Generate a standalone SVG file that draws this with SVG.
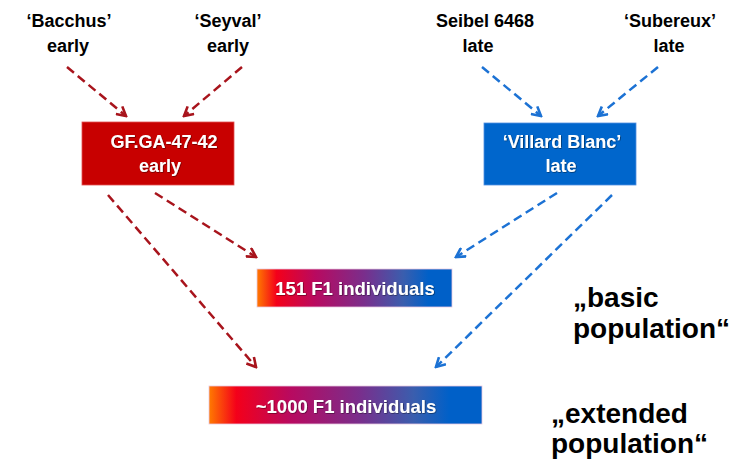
<svg xmlns="http://www.w3.org/2000/svg" width="744" height="460" viewBox="0 0 744 460">
<style>
.lbl{font-family:"Liberation Sans",Arial,sans-serif;font-weight:bold;font-size:18px;fill:#000;text-anchor:middle}
.wt{font-family:"Liberation Sans",Arial,sans-serif;font-weight:bold;font-size:18px;fill:#fff;text-anchor:middle}
.wt2{font-family:"Liberation Sans",Arial,sans-serif;font-weight:bold;font-size:18.5px;fill:#fff;text-anchor:middle}
.big{font-family:"Liberation Sans",Arial,sans-serif;font-weight:bold;font-size:28px;fill:#000}
.red{stroke:#A8141C;stroke-width:2.5;fill:none;stroke-dasharray:9 5;marker-end:url(#ar)}
.blue{stroke:#1C72D4;stroke-width:2.5;fill:none;stroke-dasharray:9 5;marker-end:url(#ab)}
</style>
<defs>
<marker id="ar" viewBox="0 0 12 12" refX="10" refY="6" markerWidth="12" markerHeight="12" markerUnits="userSpaceOnUse" orient="auto">
<path d="M1,1 L10,6 L1,11" fill="none" stroke="#A8141C" stroke-width="2.6"/>
</marker>
<marker id="ab" viewBox="0 0 12 12" refX="10" refY="6" markerWidth="12" markerHeight="12" markerUnits="userSpaceOnUse" orient="auto">
<path d="M1,1 L10,6 L1,11" fill="none" stroke="#1C72D4" stroke-width="2.6"/>
</marker>
<linearGradient id="g" x1="0" y1="0" x2="1" y2="0">
<stop offset="0" stop-color="#FF7A00"/>
<stop offset="0.1" stop-color="#F4001A"/>
<stop offset="0.3" stop-color="#B80A60"/>
<stop offset="0.55" stop-color="#7A2E8C"/>
<stop offset="0.75" stop-color="#3A5EAE"/>
<stop offset="0.88" stop-color="#0060C8"/>
<stop offset="1" stop-color="#0060C8"/>
</linearGradient>
<filter id="sh" x="-10%" y="-10%" width="120%" height="130%">
<feDropShadow dx="0.6" dy="0.6" stdDeviation="0.5" flood-color="#000" flood-opacity="0.6"/>
</filter>
</defs>
<g id="bacchus"><text class="lbl" x="69" y="27">‘Bacchus’</text><text class="lbl" x="68" y="52">early</text></g>
<g id="seyval"><text class="lbl" x="228" y="27">‘Seyval’</text><text class="lbl" x="228" y="52">early</text></g>
<g id="seibel"><text class="lbl" x="485" y="27">Seibel 6468</text><text class="lbl" x="478" y="52">late</text></g>
<g id="subereux"><text class="lbl" x="670" y="27">‘Subereux’</text><text class="lbl" x="669" y="52">late</text></g>
<g id="gfga"><rect x="82" y="122" width="152" height="63" fill="#C80000" stroke="#E05050" stroke-width="0.8"/>
<text class="wt" x="164" y="148" filter="url(#sh)">GF.GA-47-42</text><text class="wt" x="160" y="172" filter="url(#sh)">early</text></g>
<g id="villard"><rect x="484" y="123" width="152" height="62" fill="#0066CC" stroke="#5090E0" stroke-width="0.8"/>
<text class="wt" x="562" y="148" filter="url(#sh)">‘Villard Blanc’</text><text class="wt" x="561" y="172" filter="url(#sh)">late</text></g>
<g id="basic"><rect x="257" y="269" width="195" height="38" fill="url(#g)" stroke="#E8C8E0" stroke-width="0.8"/>
<text class="wt2" x="355" y="295" filter="url(#sh)">151 F1 individuals</text></g>
<g id="extended"><rect x="209" y="386" width="273" height="38" fill="url(#g)" stroke="#E8C8E0" stroke-width="0.8"/>
<text class="wt2" x="346" y="413" filter="url(#sh)">~1000 F1 individuals</text></g>
<g id="basic-label"><text class="big" x="573" y="307">„basic</text><text class="big" x="573" y="338">population“</text></g>
<g id="extended-label"><text class="big" x="551" y="423">„extended</text><text class="big" x="551" y="453">population“</text></g>
<g id="connectors">
<line class="red" x1="67" y1="67" x2="126" y2="116"/>
<line class="red" x1="242" y1="67" x2="184" y2="116"/>
<line class="blue" x1="482" y1="67" x2="541" y2="116"/>
<line class="blue" x1="658" y1="67" x2="598" y2="116"/>
<line class="red" x1="155" y1="193" x2="256" y2="257"/>
<line class="red" x1="108" y1="195" x2="256" y2="367"/>
<line class="blue" x1="557" y1="193" x2="456" y2="257"/>
<line class="blue" x1="612" y1="195" x2="436" y2="367"/>
</g>
</svg>
